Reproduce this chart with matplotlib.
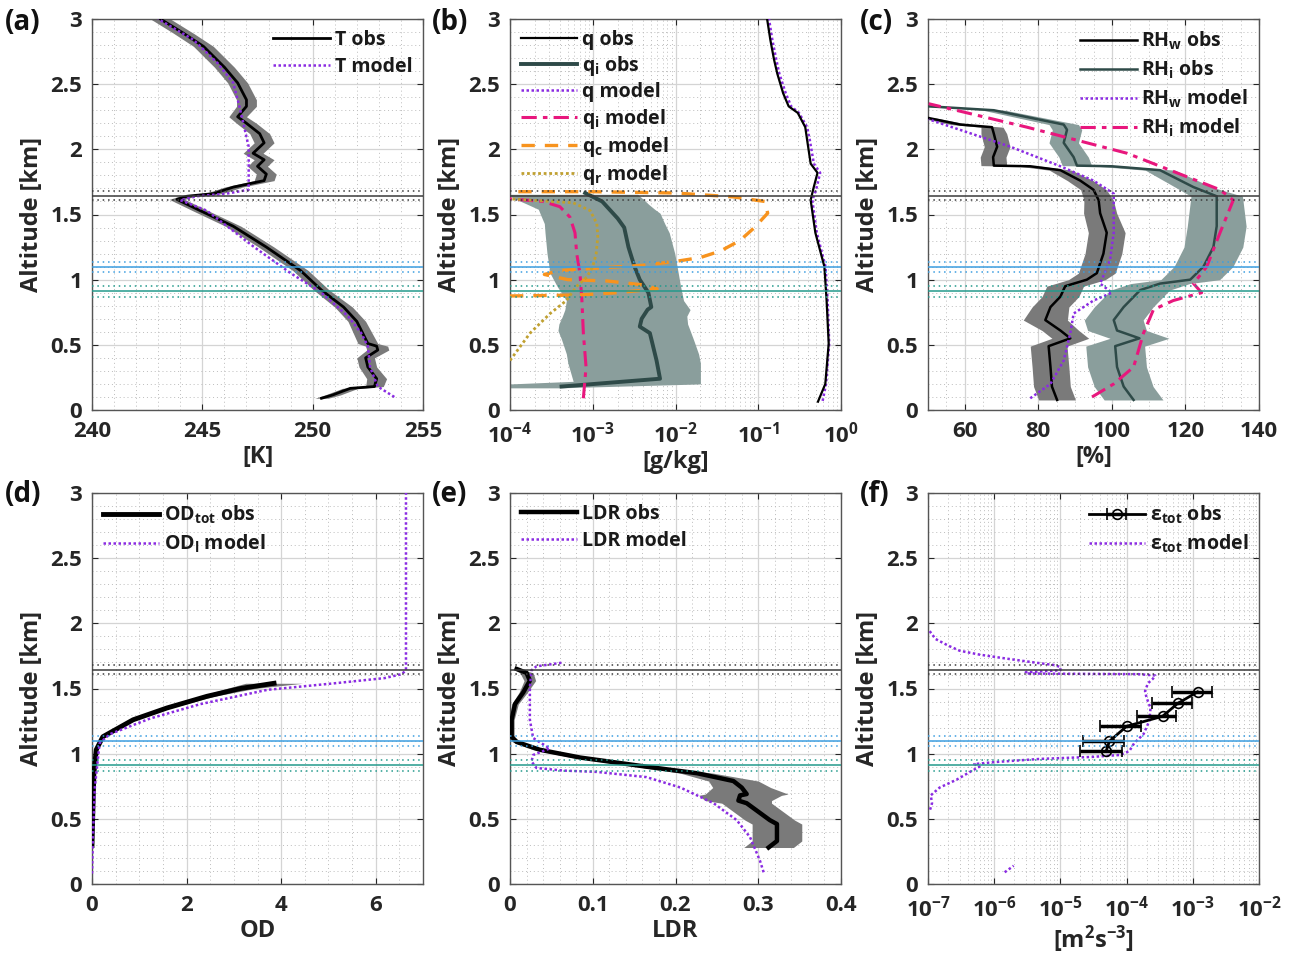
import numpy as np
import matplotlib
matplotlib.use("Agg")
import matplotlib.pyplot as plt
from matplotlib.ticker import MultipleLocator, LogLocator, NullFormatter

plt.rcParams['font.family'] = ['Open Sans', 'DejaVu Sans']
plt.rcParams['font.weight'] = 'bold'
plt.rcParams['axes.labelweight'] = 'bold'
plt.rcParams['mathtext.fontset'] = 'custom'
plt.rcParams['mathtext.rm'] = 'Open Sans:bold'
plt.rcParams['mathtext.it'] = 'Open Sans:bold'
plt.rcParams['mathtext.bf'] = 'Open Sans:bold'
plt.rcParams['mathtext.default'] = 'rm'

# ---------------- data ----------------
# reference layers (km): centre line + dotted bounds
ref_levels = [1.645, 1.095, 0.91]
ref_spread = [0.035, 0.04, 0.045]
ref_colors = ['#3a3a3a', '#3c9ee0', '#239a8c']

# (a) temperature
T_obs_alt = [0.09, 0.115, 0.166, 0.18, 0.24, 0.33, 0.40, 0.46, 0.49, 0.51, 0.68, 0.79, 0.92, 1.07,
             1.25, 1.41, 1.53, 1.616, 1.64, 1.66, 1.71, 1.76, 1.81, 1.87, 1.92, 1.97, 2.05, 2.12,
             2.20, 2.25, 2.33, 2.38, 2.51, 2.63, 2.79, 2.89, 3.0]
T_obs = [250.4, 250.9, 251.7, 252.8, 252.9, 252.5, 252.4, 252.95, 252.9, 252.5, 252.0, 251.4, 250.4,
         249.45, 247.9, 246.4, 244.9, 243.85, 244.3, 245.5, 246.4, 247.8, 247.9, 247.5, 247.8, 247.3,
         247.8, 247.6, 247.0, 246.6, 247.0, 247.0, 246.6, 246.0, 245.05, 244.15, 243.1]
T_err = [0.3, 0.35, 0.35, 0.4, 0.45, 0.4, 0.4, 0.5, 0.5, 0.45, 0.4, 0.4, 0.35, 0.35, 0.35, 0.35,
         0.35, 0.35, 0.35, 0.4, 0.4, 0.45, 0.45, 0.45, 0.45, 0.45, 0.45, 0.45, 0.45, 0.4, 0.45, 0.45,
         0.45, 0.45, 0.45, 0.45, 0.45]
T_mod_alt = [0.10, 0.18, 0.33, 0.49, 0.59, 0.72, 0.90, 1.05, 1.25, 1.53, 1.61, 1.64, 1.66, 1.69,
             1.79, 2.02, 2.17, 2.35, 2.51, 2.66, 2.84, 3.0]
T_mod = [253.7, 252.95, 252.6, 252.5, 252.2, 251.6, 250.4, 249.0, 247.35, 245.2, 244.0, 244.75,
         246.1, 247.1, 247.1, 247.1, 246.9, 246.65, 246.4, 245.7, 244.6, 243.0]

# (b) specific humidity / hydrometeors [g/kg]
q_obs_alt = [0.064, 0.2, 0.51, 0.84, 1.1, 1.36, 1.61, 1.69, 1.82, 1.89, 2.07, 2.17, 2.28, 2.33,
             2.43, 2.58, 2.69, 2.84, 3.0]
q_obs = [0.527, 0.646, 0.71, 0.67, 0.63, 0.49, 0.43, 0.46, 0.52, 0.43, 0.39, 0.37, 0.30, 0.233,
         0.20, 0.17, 0.155, 0.14, 0.128]
q_mod_alt = [0.07, 0.2, 0.51, 0.84, 1.1, 1.36, 1.61, 1.69, 1.82, 1.89, 2.07, 2.17, 2.28, 2.33,
             2.43, 2.58, 2.69, 2.84, 3.0]
q_mod = [0.60, 0.66, 0.72, 0.69, 0.65, 0.51, 0.45, 0.50, 0.56, 0.47, 0.42, 0.39, 0.31, 0.25,
         0.215, 0.18, 0.165, 0.148, 0.135]
qi_obs_alt = [0.18, 0.24, 0.38, 0.59, 0.64, 0.70, 0.77, 0.79, 0.90, 1.0, 1.1, 1.25, 1.40, 1.47,
              1.60, 1.665]
qi_obs = [4.2e-4, 6.5e-3, 5.9e-3, 4.9e-3, 3.7e-3, 3.9e-3, 4.6e-3, 5.1e-3, 4.7e-3, 3.7e-3,
          3.2e-3, 2.7e-3, 2.4e-3, 2.0e-3, 1.3e-3, 8.1e-4]
qi_band_alt = [0.17, 0.20, 0.22, 0.36, 0.43, 0.54, 0.61, 0.66, 0.72, 0.77, 0.84, 0.95, 1.05,
               1.20, 1.36, 1.43, 1.51, 1.54, 1.58, 1.61, 1.64, 1.655]
qi_band_lo = [1.0e-4, 1.0e-4, 5.8e-4, 5.0e-4, 4.8e-4, 4.2e-4, 3.8e-4, 3.9e-4, 4.3e-4, 4.6e-4,
              4.8e-4, 3.7e-4, 3.05e-4, 2.8e-4, 2.65e-4, 2.6e-4, 2.3e-4, 2.2e-4, 1.6e-4, 1.25e-4,
              1.0e-4, 1.0e-4]
qi_band_hi = [4.0e-4, 2.0e-2, 2.0e-2, 2.0e-2, 1.9e-2, 1.65e-2, 1.5e-2, 1.4e-2, 1.37e-2, 1.5e-2,
              1.25e-2, 1.15e-2, 1.08e-2, 9.8e-3, 8.4e-3, 7.4e-3, 6.5e-3, 5.6e-3, 4.7e-3, 4.2e-3,
              3.7e-3, 3.5e-3]
qim_alt = [0.09, 0.33, 0.59, 0.84, 1.05, 1.20, 1.36, 1.48, 1.56, 1.60, 1.62]
qim = [7.7e-4, 8.3e-4, 7.7e-4, 7.4e-4, 7.0e-4, 6.4e-4, 6.1e-4, 5.3e-4, 4.0e-4, 2.5e-4, 1.0e-4]
qc_alt = [0.875, 0.88, 0.885, 0.90, 0.93, 0.96, 0.99, 1.0, 1.04, 1.07, 1.09, 1.11, 1.14, 1.17,
          1.22, 1.30, 1.40, 1.51, 1.60, 1.635, 1.665, 1.675, 1.675]
qc = [1e-4, 4e-4, 8e-4, 2e-3, 6e-3, 4e-3, 1.5e-3, 5e-4, 2.6e-4, 4e-4, 1.2e-3, 4e-3, 1e-2, 2e-2,
      3.5e-2, 6e-2, 9e-2, 1.3e-1, 1.2e-1, 5e-2, 1e-2, 1e-3, 1e-4]
qr_alt = [0.38, 0.59, 0.74, 0.84, 0.95, 1.02, 1.10, 1.20, 1.33, 1.43, 1.53, 1.59, 1.61, 1.62]
qr = [1.0e-4, 1.75e-4, 3.05e-4, 4.8e-4, 6.4e-4, 8.5e-4, 1.0e-3, 1.1e-3, 1.15e-3, 1.12e-3,
      9.3e-4, 5.8e-4, 1.75e-4, 1.0e-4]

# (c) relative humidity [%]
RHw_alt = [0.077, 0.18, 0.33, 0.49, 0.55, 0.61, 0.69, 0.79, 0.87, 0.95, 1.0, 1.05, 1.2, 1.36,
           1.51, 1.61, 1.69, 1.76, 1.84, 1.87, 1.875, 1.94, 2.02, 2.12, 2.17, 2.19, 2.24]
RHw = [85.1, 83.7, 83.3, 82.8, 88.7, 86.0, 81.9, 83.3, 86.0, 87.3, 93.2, 95.9, 97.7, 98.6, 96.8,
       96.4, 95.0, 91.4, 86.0, 77.8, 67.9, 67.7, 68.8, 67.9, 67.4, 58.8, 50.2]
RHw_err = [5, 5, 5, 5, 5, 5, 6, 5, 5, 5, 5, 5, 5, 5, 4.5, 4, 3.5, 3.5, 3, 3, 3.5, 3.5, 3.5, 3.5,
           3, 2.5, 2]
RHi_alt = [0.077, 0.18, 0.33, 0.49, 0.55, 0.61, 0.69, 0.79, 0.92, 0.97, 1.0, 1.1, 1.25, 1.41,
           1.64, 1.71, 1.84, 1.87, 1.875, 1.94, 2.05, 2.15, 2.19, 2.30, 2.33]
RHi = [105.9, 103.2, 101.4, 100.9, 107.5, 101.4, 100.5, 103.2, 107.7, 113.1, 121.3, 124.9,
       127.6, 128.5, 128.5, 122.2, 113.1, 100.0, 90.5, 89.6, 86.9, 87.8, 86.9, 67.9, 50.2]
RHi_err = [8, 8, 8, 8, 8, 8, 8, 8, 8, 8, 8, 8, 8, 8, 7, 5, 4, 4, 4, 4, 4, 4, 4, 3, 2]
RHwm_alt = [0.09, 0.20, 0.38, 0.59, 0.74, 0.84, 0.90, 0.97, 1.15, 1.36, 1.66, 1.76, 1.87, 2.02,
            2.23]
RHwm = [77.8, 83.3, 86.9, 88.7, 89.6, 95.0, 100.0, 96.8, 99.5, 100.5, 100.5, 95.0, 86.0, 72.4,
        50.2]
RHim_alt = [0.10, 0.20, 0.33, 0.59, 0.77, 0.84, 0.90, 0.97, 1.10, 1.36, 1.61, 1.69, 1.97, 2.17,
            2.35]
RHim = [94.6, 100.5, 105.9, 108.6, 111.3, 116.7, 124.4, 122.2, 125.8, 129.4, 133.0, 129.4,
        104.1, 76.9, 50.2]

# (d) optical depth
OD_alt = [0.295, 0.59, 0.85, 1.03, 1.13, 1.26, 1.35, 1.44, 1.50, 1.54]
OD_obs = [0.0, 0.02, 0.04, 0.09, 0.23, 0.87, 1.58, 2.43, 3.14, 3.85]
OD_err = [0.01, 0.01, 0.01, 0.02, 0.03, 0.05, 0.08, 0.15, 0.3, 0.6]
ODm_alt = [0.08, 0.36, 0.74, 1.08, 1.15, 1.27, 1.38, 1.49, 1.54, 1.58, 1.61, 1.64, 3.0]
ODm = [0.0, 0.02, 0.06, 0.16, 0.38, 1.23, 2.29, 3.71, 5.13, 6.19, 6.55, 6.64, 6.64]

# (e) linear depolarisation ratio
LDR_alt = [0.28, 0.33, 0.46, 0.49, 0.62, 0.64, 0.68, 0.69, 0.74, 0.79, 0.85, 0.90, 0.97, 1.03,
           1.09, 1.13, 1.26, 1.38, 1.47, 1.56, 1.62, 1.65]
LDR_obs = [0.3125, 0.3226, 0.3226, 0.314, 0.286, 0.276, 0.278, 0.286, 0.28, 0.27, 0.226, 0.165,
           0.085, 0.036, 0.008, 0.002, 0.002, 0.006, 0.016, 0.024, 0.02, 0.008]
LDR_err = [0.03, 0.03, 0.03, 0.03, 0.03, 0.04, 0.05, 0.05, 0.035, 0.03, 0.02, 0.012, 0.01, 0.008,
           0.005, 0.003, 0.003, 0.004, 0.005, 0.007, 0.008, 0.004]
LDRm_alt = [0.09, 0.18, 0.36, 0.49, 0.62, 0.74, 0.82, 0.86, 0.87, 0.89, 0.94, 0.99, 1.04, 1.12,
            1.26, 1.51, 1.64, 1.67, 1.70]
LDRm = [0.3065, 0.302, 0.29, 0.274, 0.246, 0.206, 0.165, 0.105, 0.065, 0.032, 0.026, 0.028,
        0.048, 0.028, 0.024, 0.024, 0.026, 0.032, 0.065]

# (f) dissipation rate [m2 s-3]
eps_alt = [1.018, 1.095, 1.21, 1.287, 1.385, 1.474]
eps_obs = [4.9e-5, 5.5e-5, 1.0e-4, 3.5e-4, 5.9e-4, 1.18e-3]
eps_lo = [2.0e-5, 2.2e-5, 4.0e-5, 1.43e-4, 2.38e-4, 4.8e-4]
eps_hi = [8.4e-5, 9.2e-5, 1.66e-4, 5.6e-4, 9.6e-4, 1.97e-3]
epsm_alt = [1.94, 1.88, 1.83, 1.79, 1.76, 1.73, 1.70, 1.68, 1.665, 1.64, 1.625, 1.615, 1.612,
            1.61, 1.60, 1.575, 1.54, 1.48, 1.43, 1.35, 1.25, 1.15, 1.08, 1.02, 0.99, 0.975,
            0.96, 0.935, 0.92, 0.90, 0.86, 0.80, 0.74, 0.68, 0.62, 0.56]
epsm = [1.06e-7, 1.3e-7, 2e-7, 3e-7, 6e-7, 1.5e-6, 4e-6, 8e-6, 1e-5, 1e-5, 3e-6, 3e-6, 3e-5,
        1.5e-4, 2.7e-4, 2.5e-4, 2.1e-4, 1.9e-4, 2.0e-4, 2.3e-4, 2.2e-4, 1.8e-4, 1.3e-4, 1.1e-4,
        8e-5, 3e-5, 5e-6, 1e-6, 5e-7, 6e-7, 4.3e-7, 2.7e-7, 1.5e-7, 1.1e-7, 1.15e-7, 1.06e-7]
epsm_low_alt = [0.09, 0.14]
epsm_low = [1.44e-6, 1.97e-6]

# ---------------- styling ----------------
purple = '#8a2be2'
magenta = '#e8177d'
orange = '#f7931e'
olive = '#c0a030'
slate = '#2e4a48'
slate_band = '#8a9e9c'
dark_band = '#7a7a7a'
axis_col = '#262626'


def style_ax(ax, xmin, xmax, xmajor=None, xminor=None, log=False):
    if log:
        ax.set_xscale('log')
        ax.xaxis.set_major_locator(LogLocator(base=10, numticks=12))
        ax.xaxis.set_minor_locator(LogLocator(base=10, subs=np.arange(2, 10), numticks=12))
        ax.xaxis.set_minor_formatter(NullFormatter())
    else:
        ax.xaxis.set_major_locator(MultipleLocator(xmajor))
        ax.xaxis.set_minor_locator(MultipleLocator(xminor))
        ax.xaxis.set_major_formatter(plt.FuncFormatter(lambda v, p: ('%g' % round(v, 6))))
    ax.set_xlim(xmin, xmax)
    ax.set_ylim(0, 3)
    ax.yaxis.set_major_locator(MultipleLocator(0.5))
    ax.yaxis.set_minor_locator(MultipleLocator(0.1))
    ax.yaxis.set_major_formatter(plt.FuncFormatter(lambda v, p: ('%g' % v)))
    ax.grid(which='major', color='#d4d4d4', lw=0.9)
    ax.grid(which='minor', color='#bcbcbc', lw=0.7, ls=(0, (1, 3)))
    ax.set_axisbelow(True)
    ax.tick_params(which='both', direction='in', colors=axis_col, labelsize=16, top=True, right=True)
    ax.tick_params(which='major', length=4)
    ax.tick_params(which='minor', length=0)
    ax.tick_params(axis='x', pad=8)
    ax.tick_params(axis='y', pad=7)
    for s in ax.spines.values():
        s.set_color('#555555')
        s.set_linewidth(1.0)
    ax.set_ylabel('Altitude [km]', fontsize=17, color=axis_col, labelpad=5)
    for lev, spr, col in zip(ref_levels, ref_spread, ref_colors):
        ax.axhline(lev, color=col, lw=1.1, zorder=5)
        ax.axhline(lev + spr, color=col, lw=1.1, ls=(0, (1, 2.5)), zorder=5)
        ax.axhline(lev - spr, color=col, lw=1.1, ls=(0, (1, 2.5)), zorder=5)


def legend(ax, loc, handles=None, labels=None, spacing=0.35):
    if handles is None:
        handles, labels = ax.get_legend_handles_labels()
    lg = ax.legend(handles, labels, loc=loc, frameon=False, fontsize=14, handlelength=2.9,
                   handletextpad=0.25, labelspacing=spacing, borderaxespad=0.15)
    for t in lg.get_texts():
        t.set_color('#1a1a1a')
    return lg


fig = plt.figure(figsize=(13.01, 9.58), dpi=100)
W, H = 1301, 958
lefts = [92, 510, 928]
ax_w = 331
tops = [19, 493]
ax_h = 391
axes = []
for r in range(2):
    for c in range(3):
        axes.append(fig.add_axes([lefts[c] / W, 1 - (tops[r] + ax_h) / H, ax_w / W, ax_h / H]))
ax_a, ax_b, ax_c, ax_d, ax_e, ax_f = axes

# (a)
style_ax(ax_a, 240, 255, 5, 1)
Ta = np.array(T_obs); Te = np.array(T_err)
ax_a.fill_betweenx(T_obs_alt, Ta - Te, Ta + Te, color=dark_band, lw=0, zorder=2)
ax_a.plot(T_obs, T_obs_alt, color='k', lw=2.0, zorder=3, label='T obs')
ax_a.plot(T_mod, T_mod_alt, color=purple, lw=1.8, ls=(0, (1, 1)), zorder=3, label='T model')
ax_a.set_xlabel('[K]', fontsize=17, color=axis_col, labelpad=2)
legend(ax_a, 'upper right')

# (b)
style_ax(ax_b, 1e-4, 1, log=True)
ax_b.fill_betweenx(qi_band_alt, qi_band_lo, qi_band_hi, color=slate_band, lw=0, zorder=2)
ax_b.plot(q_obs, q_obs_alt, color='k', lw=1.6, zorder=4, label='q obs')
ax_b.plot(qi_obs, qi_obs_alt, color=slate, lw=2.8, zorder=4, label=r'q$_{i}$ obs')
ax_b.plot(q_mod, q_mod_alt, color=purple, lw=1.8, ls=(0, (1, 1)), zorder=3, label='q model')
ax_b.plot(qim, qim_alt, color=magenta, lw=2.2, ls=(0, (5, 2, 1.5, 2)), zorder=4,
          label=r'q$_{i}$ model')
ax_b.plot(qc, qc_alt, color=orange, lw=2.4, ls=(0, (4, 3)), zorder=4, label=r'q$_{c}$ model')
ax_b.plot(qr, qr_alt, color=olive, lw=2.0, ls=(0, (1, 1)), zorder=4, label=r'q$_{r}$ model')
ax_b.set_xlabel('[g/kg]', fontsize=17, color=axis_col, labelpad=2)
legend(ax_b, 'upper left', spacing=0.22)

# (c)
style_ax(ax_c, 50, 140, 20, 5)
a = np.array(RHw); e = np.array(RHw_err)
ax_c.fill_betweenx(RHw_alt, a - e, a + e, color=dark_band, lw=0, zorder=2)
a = np.array(RHi); e = np.array(RHi_err)
ax_c.fill_betweenx(RHi_alt, a - e, a + e, color=slate_band, lw=0, zorder=2)
ax_c.plot(RHw, RHw_alt, color='k', lw=1.8, zorder=3, label=r'RH$_{w}$ obs')
ax_c.plot(RHi, RHi_alt, color=slate, lw=1.8, zorder=3, label=r'RH$_{i}$ obs')
ax_c.plot(RHwm, RHwm_alt, color=purple, lw=1.8, ls=(0, (1, 1)), zorder=4, label=r'RH$_{w}$ model')
ax_c.plot(RHim, RHim_alt, color=magenta, lw=2.2, ls=(0, (5, 2, 1.5, 2)), zorder=4,
          label=r'RH$_{i}$ model')
ax_c.set_xlabel('[%]', fontsize=17, color=axis_col, labelpad=2)
legend(ax_c, 'upper right')

# (d)
style_ax(ax_d, 0, 7, 2, 0.5)
a = np.array(OD_obs); e = np.array(OD_err)
ax_d.fill_betweenx(OD_alt, a - e, a + e, color=dark_band, lw=0, zorder=2)
ax_d.plot(OD_obs, OD_alt, color='k', lw=3.5, zorder=3, label=r'OD$_{tot}$ obs')
ax_d.plot(ODm, ODm_alt, color=purple, lw=1.8, ls=(0, (1, 1)), zorder=4, label=r'OD$_{l}$ model')
ax_d.set_xlabel('OD', fontsize=17, color=axis_col, labelpad=2)
legend(ax_d, 'upper left')

# (e)
style_ax(ax_e, 0, 0.4, 0.1, 0.02)
a = np.array(LDR_obs); e = np.array(LDR_err)
ax_e.fill_betweenx(LDR_alt, a - e, a + e, color=dark_band, lw=0, zorder=2)
ax_e.plot(LDR_obs, LDR_alt, color='k', lw=3.2, zorder=3, label='LDR obs')
ax_e.plot(LDRm, LDRm_alt, color=purple, lw=1.8, ls=(0, (1, 1)), zorder=4, label='LDR model')
ax_e.set_xlabel('LDR', fontsize=17, color=axis_col, labelpad=2)
legend(ax_e, 'upper left')

# (f)
style_ax(ax_f, 1e-7, 1e-2, log=True)
eo = np.array(eps_obs)
xerr = [eo - np.array(eps_lo), np.array(eps_hi) - eo]
eb = ax_f.errorbar(eps_obs, eps_alt, xerr=xerr, color='k', lw=2.0, marker='o', ms=7, mfc='none',
                   mec='k', mew=1.2, capsize=4, capthick=2, elinewidth=2.5, zorder=4)
lm, = ax_f.plot(epsm, epsm_alt, color=purple, lw=1.8, ls=(0, (1, 1)), zorder=3)
ax_f.plot(epsm_low, epsm_low_alt, color=purple, lw=1.8, ls=(0, (1, 1)), zorder=3)
ax_f.set_xlabel(r'[m$^{2}$s$^{-3}$]', fontsize=17, color=axis_col, labelpad=2)
legend(ax_f, 'upper right', [eb, lm], [r'$\epsilon_{tot}$ obs', r'$\epsilon_{tot}$ model'])

# panel letters
letters = ['(a)', '(b)', '(c)', '(d)', '(e)', '(f)']
letter_x = [5, 432, 860]
letter_y = [22, 494]
for i, lab in enumerate(letters):
    fig.text(letter_x[i % 3] / W, 1 - letter_y[i // 3] / H, lab, fontsize=20, fontweight='bold',
             ha='left', va='center', color='#111111')

fig.savefig('out.png', dpi=100)
